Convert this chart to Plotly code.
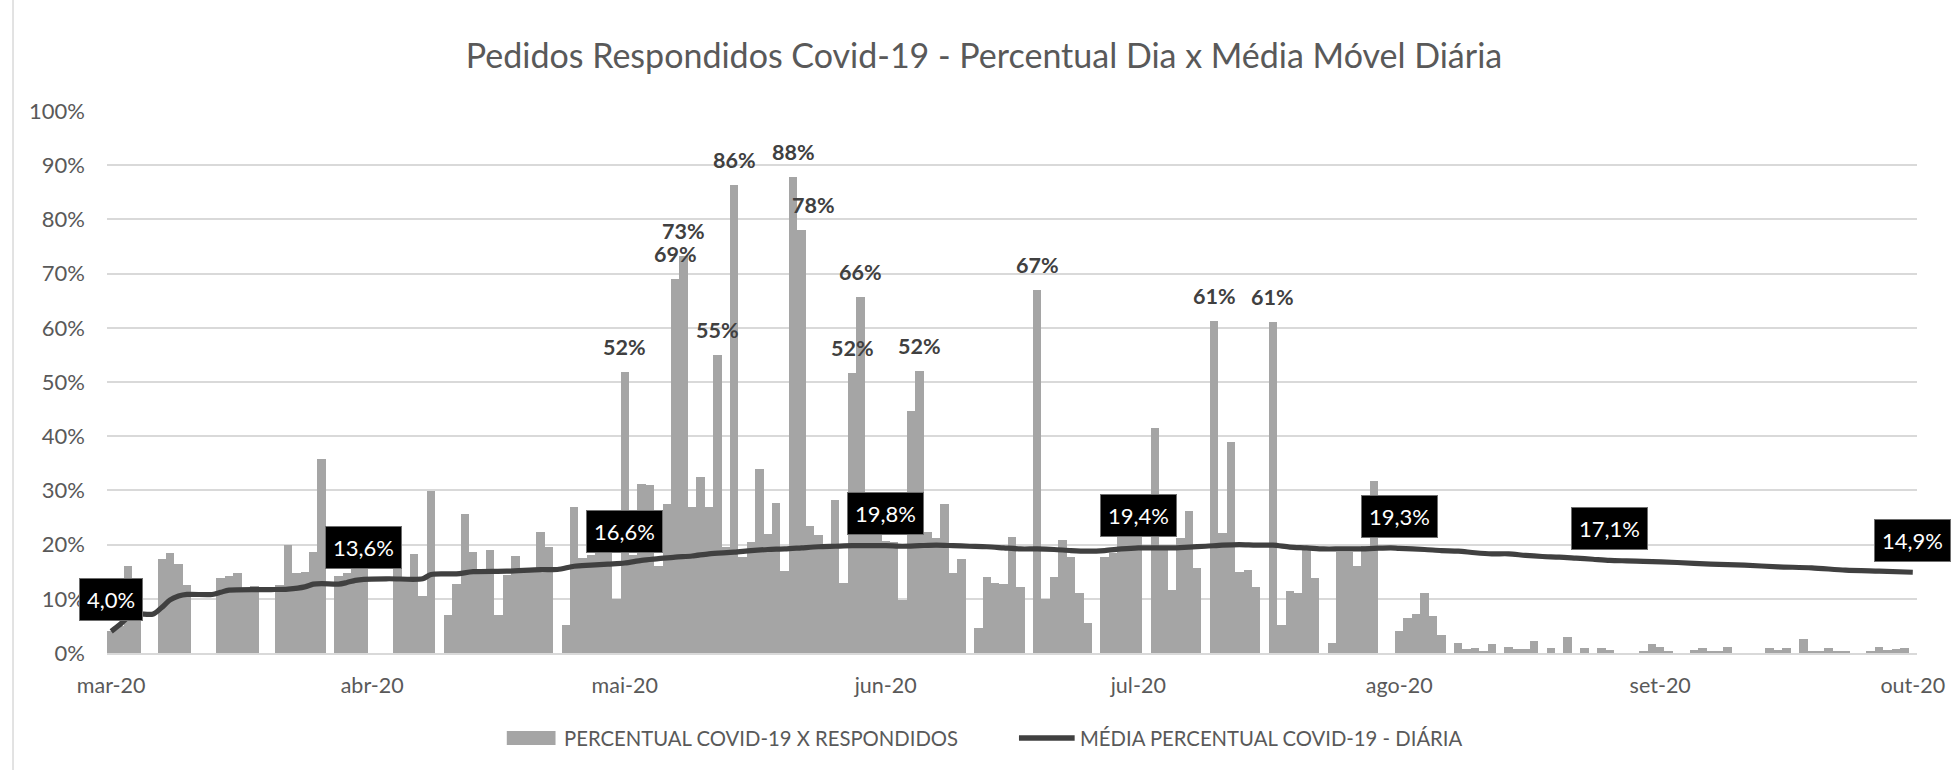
import plotly.graph_objects as go
import pandas as pd

N = None
# Daily percentage of Covid-19 requests answered (bars), one list per month
mar_values = [4.0, 5.0, 16.0, 8.0, N, N, 17.4, 18.5, 16.4, 12.6, N, N, N, 13.9, 14.2, 14.7, 11.7, 12.3, N, N,
              12.5, 20.0, 14.8, 15.0, 18.7, 35.8, N, 14.2, 14.7, 16.5, 16.5]
apr_values = [N, N, N, 16.5, 13.5, 18.2, 10.6, 29.8, N, 7.0, 12.8, 25.6, 18.6, 14.8, 19.0, 7.0, 14.3, 17.9, 15.0, 15.3,
              22.4, 19.5, N, 5.2, 26.9, 17.6, 18.0, 18.5, 20.0, 10.0]
may_values = [51.8, 18.0, 31.2, 31.0, 16.0, 27.5, 69.0, 73.2, 27.0, 32.4, 26.9, 55.0, 19.5, 86.4, 17.8, 20.4, 33.9, 21.9,
              27.7, 15.1, 87.8, 78.0, 23.5, 21.7, 20.0, 28.3, 13.0, 51.7, 65.6, 22.5, 21.7]
jun_values = [20.7, 20.4, 9.8, 44.6, 52.0, 22.3, 21.3, 27.5, 14.8, 17.3, N, 4.7, 14.1, 13.0, 12.7, 21.4, 12.2, N, 67.0,
              9.9, 14.1, 20.8, 17.8, 11.1, 5.6, N, 17.7, 18.5, 22.5, 23.0]
jul_values = [22.5, N, 41.6, 19.5, 11.6, 21.3, 26.2, 15.7, N, 61.2, 22.2, 38.9, 15.0, 15.4, 12.2, N, 61.0, 5.1, 11.5,
              11.0, 19.0, 13.8, N, 1.9, 18.6, 18.6, 16.0, 19.8, 31.8, N, N]
aug_values = [4.0, 6.4, 7.2, 11.0, 6.9, 3.3, N, 1.9, 0.8, 0.9, 0.4, 1.7, N, 1.1, 0.7, 0.7, 2.3, N, 0.9, N, 2.9, N,
              1.0, N, 0.9, 0.5, N, N, N, 0.3, 1.7]
sep_values = [1.2, 0.3, N, N, 0.5, 0.9, 0.4, 0.4, 1.2, N, N, N, N, 0.9, 0.5, 0.9, N, 2.5, 0.3, 0.4, 1.0, 0.3, 0.3,
              N, N, 0.2, 1.1, 0.5, 0.7, 0.9]
oct_values = [N]

# Daily moving average (line), read at sample dates
line_dates = ["2020-03-01", "2020-03-02", "2020-03-03", "2020-03-04", "2020-03-06", "2020-03-07", "2020-03-08",
              "2020-03-09", "2020-03-10", "2020-03-13", "2020-03-14", "2020-03-15", "2020-03-20", "2020-03-22",
              "2020-03-24", "2020-03-25", "2020-03-26", "2020-03-28", "2020-03-29", "2020-03-30", "2020-03-31",
              "2020-04-03", "2020-04-07", "2020-04-08", "2020-04-11", "2020-04-13", "2020-04-17", "2020-04-21",
              "2020-04-23", "2020-04-25", "2020-04-27", "2020-04-29", "2020-05-01", "2020-05-03", "2020-05-05",
              "2020-05-07", "2020-05-09", "2020-05-11", "2020-05-14", "2020-05-16", "2020-05-18", "2020-05-20",
              "2020-05-22", "2020-05-24", "2020-05-26", "2020-05-28", "2020-05-30", "2020-06-01", "2020-06-03",
              "2020-06-05", "2020-06-07", "2020-06-09", "2020-06-11", "2020-06-13", "2020-06-15", "2020-06-17",
              "2020-06-19", "2020-06-21", "2020-06-23", "2020-06-25", "2020-06-27", "2020-06-29", "2020-07-01",
              "2020-07-03", "2020-07-05", "2020-07-07", "2020-07-09", "2020-07-11", "2020-07-13", "2020-07-15",
              "2020-07-17", "2020-07-19", "2020-07-21", "2020-07-23", "2020-07-25", "2020-07-27", "2020-07-29",
              "2020-07-31", "2020-08-01", "2020-08-04", "2020-08-06", "2020-08-08", "2020-08-10", "2020-08-12",
              "2020-08-14", "2020-08-16", "2020-08-18", "2020-08-20", "2020-08-22", "2020-08-24", "2020-08-26",
              "2020-08-28", "2020-08-30", "2020-09-03", "2020-09-07", "2020-09-11", "2020-09-15", "2020-09-19",
              "2020-09-23", "2020-09-27", "2020-10-01"]
line_values = [4.0, 5.2, 6.6, 7.2, 7.2, 8.4, 9.8,
               10.5, 10.8, 10.8, 11.2, 11.6, 11.7, 11.8,
               12.2, 12.7, 12.8, 12.7, 13.0, 13.4, 13.6,
               13.7, 13.7, 14.5, 14.6, 15.0, 15.1, 15.4,
               15.4, 16.0, 16.2, 16.4, 16.6, 17.1, 17.4,
               17.7, 17.9, 18.3, 18.6, 18.9, 19.1, 19.2,
               19.4, 19.6, 19.7, 19.8, 19.8, 19.8, 19.7,
               19.8, 19.9, 19.8, 19.7, 19.6, 19.4, 19.2,
               19.2, 19.1, 18.9, 18.8, 18.9, 19.2, 19.4,
               19.4, 19.4, 19.55, 19.7, 19.9, 20.0, 19.9,
               19.9, 19.55, 19.4, 19.2, 19.2, 19.2, 19.3,
               19.4, 19.3, 19.1, 18.9, 18.8, 18.5, 18.3,
               18.3, 18.0, 17.8, 17.7, 17.5, 17.3, 17.1,
               17.0, 16.9, 16.7, 16.4, 16.2, 15.9, 15.7,
               15.3, 15.1, 14.9]

# Labelled peak bars
peak_dates = ["2020-05-01", "2020-05-07", "2020-05-08", "2020-05-12", "2020-05-14", "2020-05-21", "2020-05-22",
              "2020-05-28", "2020-05-29", "2020-06-05", "2020-06-19", "2020-07-10", "2020-07-17"]
# Labelled points of the moving average
box_dates = ["2020-03-01", "2020-03-31", "2020-05-01", "2020-06-01", "2020-07-01", "2020-08-01", "2020-08-26",
             "2020-10-01"]

tick_dates = ["2020-03-01", "2020-04-01", "2020-05-01", "2020-06-01", "2020-07-01", "2020-08-01", "2020-09-01",
              "2020-10-01"]
tick_texts = ["mar-20", "abr-20", "mai-20", "jun-20", "jul-20", "ago-20", "set-20", "out-20"]

title_text = "Pedidos Respondidos Covid-19 - Percentual Dia x Média Móvel Diária"
bar_name = "PERCENTUAL COVID-19 X RESPONDIDOS"
line_name = "MÉDIA PERCENTUAL COVID-19 - DIÁRIA"

# ---------------------------------------------------------------------------
bar_values = mar_values + apr_values + may_values + jun_values + jul_values + aug_values + sep_values + oct_values
bar_dates = pd.date_range("2020-03-01", "2020-10-01", freq="D")
bar_series = pd.Series(bar_values, index=bar_dates, dtype="float")
line_series = pd.Series(line_values, index=pd.to_datetime(line_dates))

FONT = "Lato"
TXT = "#595959"
BAR_C = "#a5a5a5"
LINE_C = "#404040"
GRID = "#d9d9d9"

W, H = 1957, 770
ML, MR, MT, MB = 107, 30, 111, 117
PW, PH = W - ML - MR, H - MT - MB


def px_x(px):
    return (px - ML) / PW


def px_y(py):
    return (H - MB - py) / PH


fig = go.Figure()
fig.add_trace(go.Bar(x=bar_series.index, y=bar_series.values / 100, marker_color=BAR_C,
                     marker_line_width=0, name=bar_name, showlegend=False))
fig.add_trace(go.Scatter(x=line_series.index, y=line_series.values / 100, mode="lines",
                         line=dict(color=LINE_C, width=5.2, shape="spline", smoothing=0.8),
                         name=line_name, showlegend=False))

annotations = []
for d in peak_dates:
    v = bar_series[pd.Timestamp(d)]
    annotations.append(dict(x=d, y=v / 100, xref="x", yref="y", text=f"<b>{round(v)}%</b>",
                            showarrow=False, yanchor="middle", yshift=25,
                            xshift=12 if round(v) == 78 else 0,
                            font=dict(family=FONT, size=21.5, color=LINE_C)))
for d in box_dates:
    v = line_series[pd.Timestamp(d)]
    annotations.append(dict(x=d, y=v / 100, xref="x", yref="y", text=f"{v:.1f}".replace(".", ",") + "%",
                            showarrow=False, yanchor="middle", yshift=32,
                            bgcolor="#000000", bordercolor="#6e6e6e", borderwidth=1, borderpad=7,
                            font=dict(family=FONT, size=22, color="#ffffff")))

# legend (drawn like the original Excel legend)
leg_y = px_y(738)
annotations.append(dict(x=px_x(565), y=leg_y, xref="paper", yref="paper", text=bar_name, showarrow=False,
                        xanchor="left", yanchor="middle", font=dict(family=FONT, size=20.3, color=TXT)))
annotations.append(dict(x=px_x(1083), y=leg_y, xref="paper", yref="paper", text=line_name, showarrow=False,
                        xanchor="left", yanchor="middle", font=dict(family=FONT, size=20.3, color=TXT)))

shapes = [
    dict(type="rect", xref="paper", yref="paper", x0=px_x(509), x1=px_x(558), y0=px_y(745), y1=px_y(731),
         fillcolor=BAR_C, line_width=0),
    dict(type="line", xref="paper", yref="paper", x0=px_x(1024), x1=px_x(1080), y0=leg_y, y1=leg_y,
         line=dict(color=LINE_C, width=5.5)),
    dict(type="line", xref="paper", yref="paper", x0=px_x(12.5), x1=px_x(12.5), y0=px_y(770), y1=px_y(0),
         line=dict(color=GRID, width=1.5)),
]

fig.update_layout(
    width=W, height=H,
    margin=dict(l=ML, r=MR, t=MT, b=MB),
    paper_bgcolor="white", plot_bgcolor="white",
    bargap=0,
    title=dict(text=title_text, x=984 / W, xanchor="center", y=1 - 56 / H, yanchor="middle",
               font=dict(family=FONT, size=34, color=TXT)),
    annotations=annotations,
    shapes=shapes,
    showlegend=False,
    xaxis=dict(type="date", range=["2020-02-29 12:00", "2020-10-01 12:00"],
               tickvals=tick_dates, ticktext=tick_texts, showgrid=False,
               showline=True, linecolor=GRID, linewidth=1.5, ticks="",
               ticklabelstandoff=12,
               tickfont=dict(family=FONT, size=21.5, color=TXT)),
    yaxis=dict(range=[0, 1.0], dtick=0.1, tickformat=".0%", showgrid=True, gridcolor=GRID, gridwidth=1.5,
               zeroline=False, showline=False, ticks="", ticklabelstandoff=21,
               tickfont=dict(family=FONT, size=22, color=TXT)),
)

fig.write_html("out.html")
